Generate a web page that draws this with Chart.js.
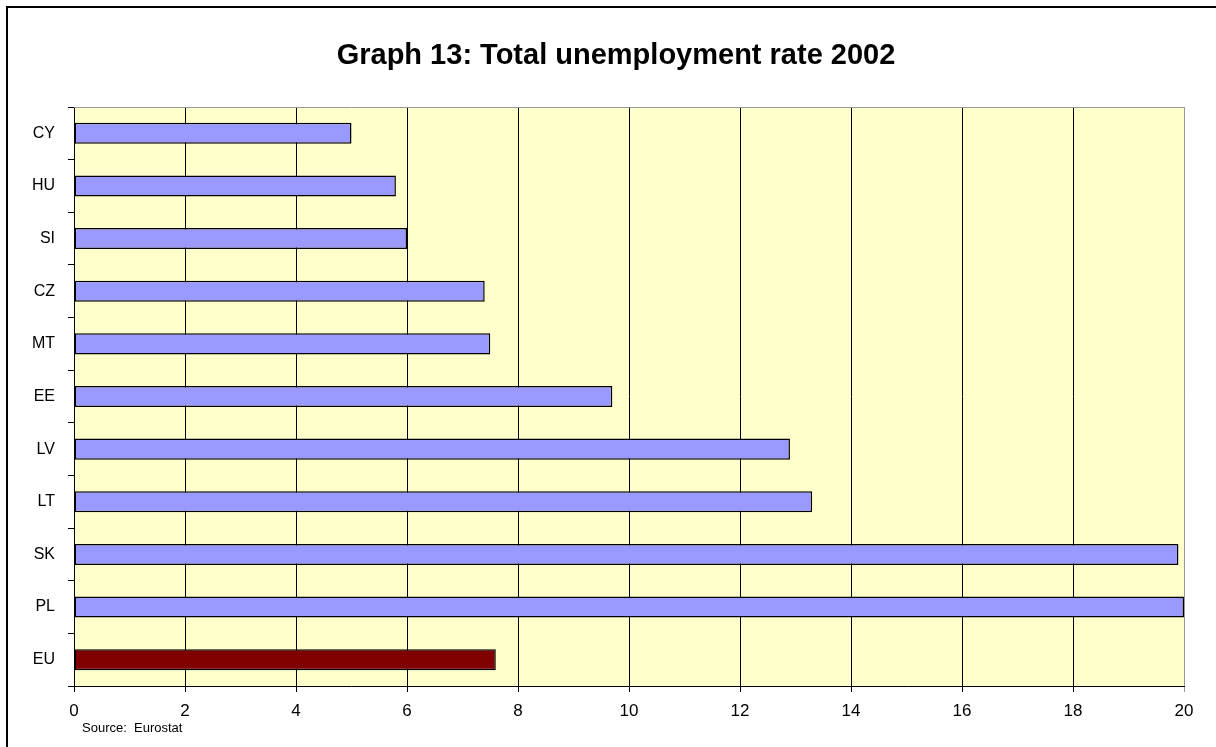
<!DOCTYPE html>
<html>
<head>
<meta charset="utf-8">
<script src="https://cdn.jsdelivr.net/npm/chart.js@4.4.1/dist/chart.umd.min.js"></script>
<style>
  html, body { margin: 0; padding: 0; background: #fff; }
  #wrap { width: 1216px; height: 747px; }
</style>
</head>
<body>
<div id="wrap"><canvas id="rateChart" width="1216" height="747"></canvas></div>
<script>
// Graph 13: Total unemployment rate 2002
const countries = ['CY', 'HU', 'SI', 'CZ', 'MT', 'EE', 'LV', 'LT', 'SK', 'PL', 'EU'];
const rates = [5.0, 5.8, 6.0, 7.4, 7.5, 9.7, 12.9, 13.3, 19.9, 20.0, 7.6];
const xTicks = [0, 2, 4, 6, 8, 10, 12, 14, 16, 18, 20];
const titleText = 'Graph 13: Total unemployment rate 2002';
const sourceText = 'Source:  Eurostat';

const barColors = countries.map(c => c === 'EU' ? '#800000' : '#9999FF');
const FONT = '"Liberation Sans", Arial, sans-serif';

// background, frame, title and source note
const decor = {
  id: 'decor',
  beforeDraw(chart) {
    const { ctx, chartArea: a } = chart;
    ctx.save();
    ctx.fillStyle = '#fff';
    ctx.fillRect(0, 0, chart.width, chart.height);
    ctx.fillStyle = '#FFFFCC';
    ctx.fillRect(a.left, a.top, a.right - a.left, a.bottom - a.top);
    ctx.restore();
  },
  beforeDatasetsDraw(chart) {
    const { ctx, chartArea: a } = chart;
    ctx.save();
    ctx.strokeStyle = '#999';
    ctx.lineWidth = 1;
    ctx.beginPath();
    ctx.moveTo(a.left, a.top + 0.5);
    ctx.lineTo(a.right + 0.5, a.top + 0.5);
    ctx.lineTo(a.right + 0.5, a.bottom);
    ctx.stroke();
    ctx.restore();
  },
  afterDraw(chart) {
    const { ctx } = chart;
    ctx.save();
    ctx.strokeStyle = '#000';
    ctx.lineWidth = 2;
    ctx.strokeRect(7, 7, 1240, 780);
    ctx.fillStyle = '#000';
    ctx.textBaseline = 'alphabetic';
    ctx.textAlign = 'center';
    ctx.font = 'bold 29px ' + FONT;
    ctx.fillText(titleText, 616, 64);
    ctx.textAlign = 'left';
    ctx.font = '13px ' + FONT;
    ctx.fillText(sourceText, 82, 732);
    ctx.restore();
  }
};

new Chart(document.getElementById('rateChart'), {
  type: 'bar',
  data: {
    labels: countries,
    datasets: [{
      data: rates,
      backgroundColor: barColors,
      borderColor: '#000',
      borderWidth: 1.5,
      borderSkipped: false,
      categoryPercentage: 1,
      barPercentage: 0.4
    }]
  },
  options: {
    indexAxis: 'y',
    responsive: false,
    animation: false,
    layout: { padding: { left: 0, right: 32, top: 107, bottom: 0 } },
    plugins: {
      legend: { display: false },
      tooltip: { enabled: false },
      title: { display: false }
    },
    scales: {
      x: {
        min: 0,
        max: 20,
        afterBuildTicks: s => { s.ticks = xTicks.map(v => ({ value: v })); },
        afterFit: s => { s.height = 61; },
        border: { color: '#000', width: 1 },
        grid: {
          color: c => c.tick && c.tick.value === 20 ? '#999' : '#000',
          lineWidth: 1,
          tickLength: 6
        },
        ticks: {
          color: '#000',
          padding: 9,
          font: { family: FONT, size: 17 }
        }
      },
      y: {
        offset: true,
        afterFit: s => { s.width = 74; },
        border: { color: '#000', width: 1 },
        grid: {
          offset: true,
          drawOnChartArea: false,
          color: '#000',
          tickLength: 6
        },
        ticks: {
          color: '#000',
          padding: 13,
          font: { family: FONT, size: 16 }
        }
      }
    }
  },
  plugins: [decor]
});
</script>
</body>
</html>
